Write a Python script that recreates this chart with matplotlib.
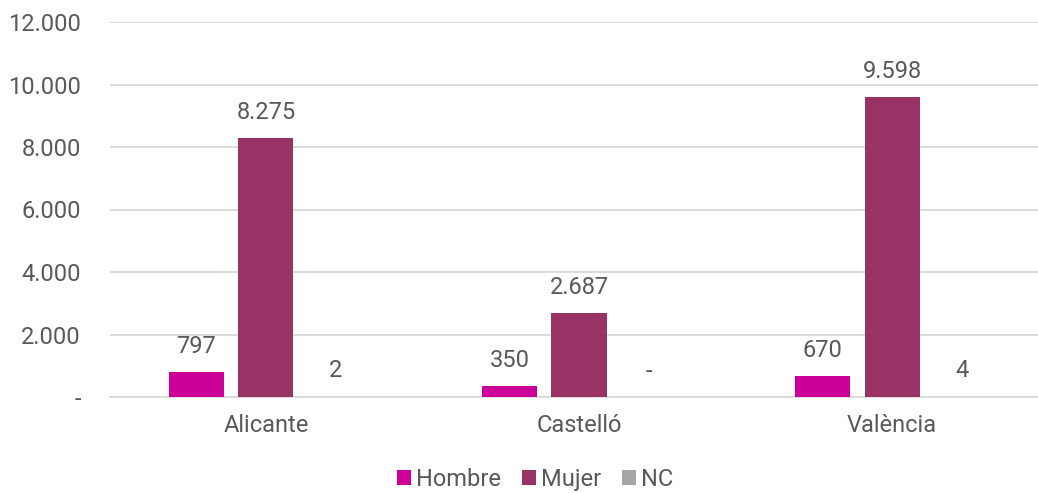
import numpy as np
import matplotlib.pyplot as plt
from matplotlib.ticker import FuncFormatter

provincias = ["Alicante", "Castelló", "València"]
hombre = [797, 350, 670]
mujer = [8275, 2687, 9598]
nc = [2, 0, 4]
series = ["Hombre", "Mujer", "NC"]
colores = ["#CC0099", "#993366", "#A6A6A6"]
yticks = [0, 2000, 4000, 6000, 8000, 10000, 12000]

TXT = "#595959"
FS = 17
plt.rcParams["font.family"] = ["Roboto", "DejaVu Sans"]


def miles(v, pos=None):
    if v == 0:
        return "-"
    return f"{int(round(v)):,}".replace(",", ".")


fig = plt.figure(figsize=(10.38, 4.93), dpi=100)
ax = fig.add_axes([110 / 1038, 96 / 493, 928 / 1038, 375 / 493])

x = np.arange(len(provincias))
width = 0.176
offsets = [-0.222, 0.0, 0.222]
for vals, name, col, off in zip([hombre, mujer, nc], series, colores, offsets):
    bars = ax.bar(x + off, vals, width, color=col, label=name, zorder=3)
    for b, v in zip(bars, vals):
        ax.annotate(miles(v), (b.get_x() + b.get_width() / 2, b.get_height()),
                    xytext=(0, 14), textcoords="offset points",
                    ha="center", va="baseline", fontsize=FS, color=TXT)

ax.set_xlim(-0.498, 2.466)
ax.set_ylim(0, 12000)
ax.set_yticks(yticks)
ax.yaxis.set_major_formatter(FuncFormatter(miles))
ax.set_xticks(x)
ax.set_xticklabels(provincias)
ax.tick_params(axis="both", length=0, labelsize=FS, labelcolor=TXT)
ax.tick_params(axis="y", pad=21)
ax.tick_params(axis="x", pad=12)
ax.grid(axis="y", color="#D9D9D9", linewidth=1.3, zorder=0)
for s in ["top", "right", "left"]:
    ax.spines[s].set_visible(False)
ax.spines["bottom"].set_color("#D9D9D9")
ax.spines["bottom"].set_linewidth(1.3)

ax.legend(loc="center", bbox_to_anchor=(425 / 928, -0.22), ncol=3, frameon=False,
          fontsize=FS, labelcolor=TXT, handlelength=0.6, handleheight=0.6,
          handletextpad=0.2, columnspacing=0.9)

fig.savefig("out.png", dpi=100)
